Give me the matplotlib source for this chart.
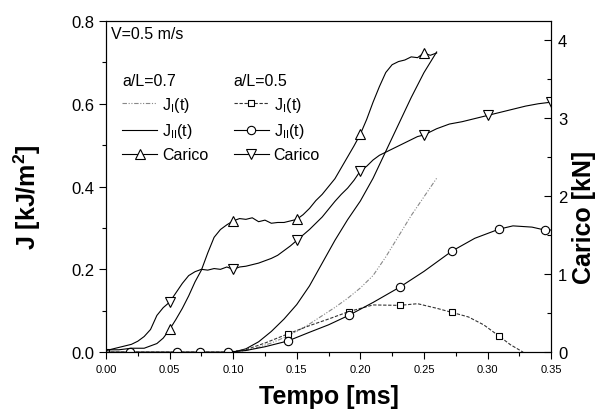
import matplotlib
matplotlib.use('Agg')
import matplotlib.pyplot as plt
from matplotlib.lines import Line2D
from matplotlib.ticker import MultipleLocator

plt.rcParams['font.family'] = ['Liberation Sans', 'DejaVu Sans']
plt.rcParams['mathtext.fontset'] = 'custom'
plt.rcParams['mathtext.rm'] = 'Liberation Sans'
plt.rcParams['mathtext.it'] = 'Liberation Sans:italic'
plt.rcParams['mathtext.bf'] = 'Liberation Sans:bold'

# a/L = 0.7 : J curves (no markers)
t_j07 = [0.100, 0.110, 0.120, 0.130, 0.140, 0.150, 0.160, 0.170, 0.180, 0.190,
         0.200, 0.210, 0.220, 0.230, 0.240, 0.250, 0.260]
jI_07 = [0.000, 0.004, 0.012, 0.022, 0.035, 0.050, 0.068, 0.088, 0.108, 0.130,
         0.155, 0.185, 0.230, 0.280, 0.330, 0.375, 0.420]
jII_07 = [0.000, 0.008, 0.025, 0.050, 0.080, 0.115, 0.160, 0.215, 0.270, 0.320,
          0.365, 0.420, 0.485, 0.550, 0.615, 0.675, 0.725]

# a/L = 0.5 : J curves (with markers)
t_jI05 = [0.0, 0.019, 0.056, 0.074, 0.096, 0.110, 0.125, 0.143, 0.160, 0.175, 0.191,
          0.210, 0.231, 0.245, 0.260, 0.272, 0.285, 0.297, 0.309, 0.318, 0.328]
jI_05 = [0, 0, 0, 0, 0, 0.006, 0.022, 0.044, 0.064, 0.080, 0.098,
         0.114, 0.113, 0.117, 0.106, 0.096, 0.085, 0.066, 0.039, 0.018, 0.0]
mk_jI05 = [0, 1, 2, 3, 4, 7, 10, 12, 15, 18]

t_jII05 = [0.0, 0.019, 0.056, 0.074, 0.096, 0.110, 0.125, 0.143, 0.160, 0.175, 0.191,
           0.210, 0.231, 0.250, 0.272, 0.290, 0.309, 0.320, 0.335, 0.345, 0.350]
jII_05 = [0, 0, 0, 0, 0, 0.004, 0.013, 0.027, 0.048, 0.066, 0.089,
          0.120, 0.157, 0.195, 0.244, 0.275, 0.297, 0.305, 0.302, 0.295, 0.295]
mk_jII05 = [1, 2, 3, 4, 7, 10, 12, 14, 16, 19]

# Carico [kN]
t_c07 = [0.000, 0.010, 0.020, 0.030, 0.035, 0.040, 0.045, 0.050, 0.055, 0.060,
         0.065, 0.070, 0.075, 0.080, 0.085, 0.090, 0.095, 0.100, 0.105, 0.110,
         0.115, 0.120, 0.125, 0.130, 0.135, 0.140, 0.145, 0.150, 0.155, 0.160,
         0.165, 0.170, 0.175, 0.180, 0.185, 0.190, 0.195, 0.200, 0.205, 0.210,
         0.215, 0.220, 0.225, 0.230, 0.235, 0.240, 0.245, 0.250, 0.255, 0.260]
c_07 = [0.03, 0.03, 0.05, 0.05, 0.08, 0.11, 0.18, 0.29, 0.42, 0.56,
        0.72, 0.90, 1.05, 1.27, 1.47, 1.57, 1.63, 1.68, 1.71, 1.70,
        1.72, 1.67, 1.69, 1.65, 1.66, 1.66, 1.68, 1.70, 1.76, 1.84,
        1.94, 2.02, 2.12, 2.22, 2.36, 2.50, 2.64, 2.79, 2.98, 3.20,
        3.40, 3.58, 3.68, 3.72, 3.74, 3.78, 3.77, 3.83, 3.80, 3.83]
mk_c07 = [7, 17, 27, 37, 47]

t_c05 = [0.000, 0.010, 0.020, 0.025, 0.030, 0.035, 0.040, 0.045, 0.050, 0.055,
         0.060, 0.065, 0.070, 0.075, 0.080, 0.085, 0.090, 0.095, 0.100, 0.105,
         0.110, 0.115, 0.120, 0.125, 0.130, 0.135, 0.140, 0.145, 0.150, 0.155,
         0.160, 0.165, 0.170, 0.175, 0.180, 0.185, 0.190, 0.195, 0.200, 0.205,
         0.210, 0.215, 0.220, 0.225, 0.230, 0.235, 0.240, 0.245, 0.250, 0.260,
         0.270, 0.280, 0.290, 0.300, 0.310, 0.320, 0.330, 0.340, 0.350]
c_05 = [0.02, 0.06, 0.10, 0.14, 0.20, 0.29, 0.47, 0.57, 0.64, 0.76,
        0.88, 0.98, 1.03, 1.06, 1.05, 1.07, 1.06, 1.09, 1.06, 1.09,
        1.10, 1.12, 1.14, 1.17, 1.20, 1.24, 1.30, 1.36, 1.43, 1.50,
        1.57, 1.65, 1.73, 1.83, 1.93, 2.02, 2.10, 2.20, 2.32, 2.38,
        2.46, 2.52, 2.56, 2.60, 2.64, 2.68, 2.72, 2.76, 2.78, 2.86,
        2.92, 2.95, 2.99, 3.03, 3.07, 3.11, 3.15, 3.18, 3.20]
mk_c05 = [8, 18, 28, 38, 48, 53, 58]

fig = plt.figure(figsize=(5.99, 4.14), dpi=100)
ax = fig.add_axes([0.177, 0.147, 0.743, 0.800])
ax2 = ax.twinx()

lw = 0.8
ax.plot(t_j07, jI_07, color='#888888', ls=(0, (4, 1.5, 1, 1.5, 1, 1.5)), lw=lw)
ax.plot(t_j07, jII_07, color='black', ls='-', lw=lw)
ax.plot(t_jI05, jI_05, color='#333333', ls=(0, (3, 1.5)), lw=lw, marker='s',
        markevery=mk_jI05, ms=5, mfc='white', mec='black', mew=0.8)
ax.plot(t_jII05, jII_05, color='black', ls='-', lw=lw, marker='o',
        markevery=mk_jII05, ms=6, mfc='white', mec='black', mew=0.8)

ax2.plot(t_c07, c_07, color='black', lw=lw, marker='^', markevery=mk_c07,
         ms=7, mfc='white', mec='black', mew=0.8)
ax2.plot(t_c05, c_05, color='black', lw=lw, marker='v', markevery=mk_c05,
         ms=7, mfc='white', mec='black', mew=0.8)

ax.set_xlim(0, 0.35)
ax.set_ylim(0, 0.8)
ax2.set_ylim(0, 4.24)

ax.xaxis.set_major_locator(MultipleLocator(0.05))
ax.xaxis.set_minor_locator(MultipleLocator(0.025))
ax.yaxis.set_major_locator(MultipleLocator(0.2))
ax.yaxis.set_minor_locator(MultipleLocator(0.1))
ax2.yaxis.set_major_locator(MultipleLocator(1))
ax2.yaxis.set_minor_locator(MultipleLocator(0.5))
ax.xaxis.set_major_formatter(matplotlib.ticker.FormatStrFormatter('%.2f'))
ax.yaxis.set_major_formatter(matplotlib.ticker.FormatStrFormatter('%.1f'))

ax.tick_params(axis='both', which='both', direction='out', top=False, right=False)
ax.tick_params(axis='both', which='major', length=5, width=0.8)
ax.tick_params(axis='both', which='minor', length=3, width=0.8)
ax.tick_params(axis='x', labelsize=8)
ax.tick_params(axis='y', labelsize=12)
ax2.tick_params(axis='y', which='major', direction='in', length=5, width=0.8, labelsize=12, pad=5)
ax2.tick_params(axis='y', which='minor', direction='in', length=3, width=0.8)

ax.set_xlabel('Tempo [ms]', fontsize=18, fontweight='bold')
ax.set_ylabel(r'J [kJ/m$^{\mathbf{2}}$]', fontsize=18, fontweight='bold')
ax2.set_ylabel('Carico [kN]', fontsize=18, fontweight='bold', rotation=90)
ax.xaxis.set_label_coords(0.5, -0.097)
ax.yaxis.set_label_coords(-0.142, 0.47)
ax2.yaxis.set_label_coords(1.047, 0.41)

ax2.text(0.011, 0.985, 'V=0.5 m/s', transform=ax2.transAxes, ha='left', va='top', fontsize=11.5)

h07 = [Line2D([], [], color='#888888', ls=(0, (4, 1.5, 1, 1.5, 1, 1.5)), lw=lw),
       Line2D([], [], color='black', lw=lw),
       Line2D([], [], color='black', lw=lw, marker='^', ms=7, mfc='white', mec='black', mew=0.8)]
h05 = [Line2D([], [], color='#333333', ls=(0, (3, 1.5)), lw=lw, marker='s', ms=5,
              mfc='white', mec='black', mew=0.8),
       Line2D([], [], color='black', lw=lw, marker='o', ms=6, mfc='white', mec='black', mew=0.8),
       Line2D([], [], color='black', lw=lw, marker='v', ms=7, mfc='white', mec='black', mew=0.8)]
labels = [r'J$_{\mathrm{I}}$(t)', r'J$_{\mathrm{II}}$(t)', 'Carico']

leg1 = ax2.legend(h07, labels, title='a/L=0.7', loc='upper left', bbox_to_anchor=(0.011, 0.877),
                  frameon=False, fontsize=11.5, title_fontsize=11.5, alignment='left',
                  handlelength=2.2, handletextpad=0.3, labelspacing=0.45, borderpad=0.2)
ax2.add_artist(leg1)
ax2.legend(h05, labels, title='a/L=0.5', loc='upper left', bbox_to_anchor=(0.262, 0.877),
           frameon=False, fontsize=11.5, title_fontsize=11.5, alignment='left',
           handlelength=2.2, handletextpad=0.3, labelspacing=0.45, borderpad=0.2)

fig.savefig('out.png', dpi=100)
